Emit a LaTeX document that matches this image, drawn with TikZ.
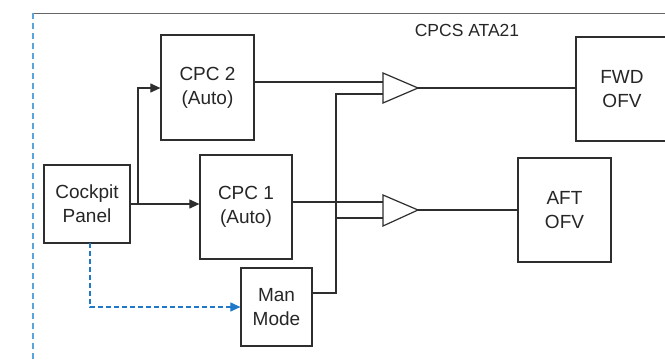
\documentclass[tikz,border=0pt]{standalone}
\usepackage{fontspec}
\setmainfont{Liberation Sans}
\usetikzlibrary{arrows.meta}
\definecolor{lineg}{HTML}{2E2E2E}
\definecolor{frameblue}{HTML}{5BA3D9}
\definecolor{dashblue}{HTML}{1F78C8}
\begin{document}
\begin{tikzpicture}[x=1pt,y=-1pt,
  blk/.style={draw=lineg,line width=1.2pt,fill=white,inner sep=0pt,align=center,
    font=\fontsize{19}{24}\selectfont,text=black!85},
  wire/.style={draw=lineg,line width=1.1pt},
  arr/.style={wire,-{Triangle[length=10pt,width=9pt]}},
  darr/.style={draw=dashblue,line width=1.1pt,dash pattern=on 5pt off 3pt,
    -{Triangle[length=10pt,width=9pt]}},
]
\useasboundingbox (0,0) rectangle (665,362);
\clip (0,0) rectangle (665,362);
% frame
\draw[draw=black!60,line width=1pt] (33,13) -- (665,13);
\draw[draw=frameblue,line width=1.2pt,dash pattern=on 6pt off 4pt] (33,13) -- (33,362);
\node[font=\fontsize{17.5}{20}\selectfont,text=black!85] (title) at (467,30) {CPCS ATA21};
% blocks
\node[blk,minimum width=93pt,minimum height=105pt] (cpc2) at (207.5,87.5) {CPC 2\\(Auto)};
\node[blk,minimum width=92pt,minimum height=104pt] (fwd) at (622,89) {FWD\\OFV};
\node[blk,minimum width=86pt,minimum height=78pt] (cockpit) at (87,204) {Cockpit\\Panel};
\node[blk,minimum width=92pt,minimum height=104pt] (cpc1) at (246,207) {CPC 1\\(Auto)};
\node[blk,minimum width=71pt,minimum height=78pt] (man) at (276.5,307) {Man\\Mode};
\node[blk,minimum width=93pt,minimum height=104pt] (aft) at (564.5,210) {AFT\\OFV};
% triangles (amplifiers)
\coordinate (t1top) at (383,73);
\coordinate (t1bot) at (383,103);
\coordinate (t1tip) at (418,88);
\coordinate (t1a) at (383,82);
\coordinate (t1b) at (383,94);
\coordinate (t2top) at (383,195);
\coordinate (t2bot) at (383,226);
\coordinate (t2tip) at (418,210);
\coordinate (t2a) at (383,202);
\coordinate (t2b) at (383,218);
\draw[draw=lineg,line width=1.2pt,fill=white,line join=miter] (t1top) -- (t1tip) -- (t1bot) -- cycle;
\draw[draw=lineg,line width=1.2pt,fill=white,line join=miter] (t2top) -- (t2tip) -- (t2bot) -- cycle;
% bus and junction points
\coordinate (br) at (138,204);
\coordinate (manout) at (336,293);
\coordinate (bus1) at (336,94);
\coordinate (bus2) at (336,218);
% connectors
\draw[wire] (cpc2.east |- t1a) -- (t1a);
\draw[wire] (t1tip) -- (fwd.west |- t1tip);
\draw[wire] (cpc1.east |- t2a) -- (t2a);
\draw[wire] (t2tip) -- (aft.west |- t2tip);
\draw[wire] (man.east |- manout) -- (manout) -- (bus1) -- (t1b);
\draw[wire] (bus2) -- (t2b);
\draw[arr] (cockpit.east) -- (cockpit.east -| cpc1.west);
\draw[arr] (br) -- (br |- 0,88) -- (cpc2.west |- 0,88);
\coordinate (dstart) at (90,243);
\draw[darr] (dstart) -- (dstart |- man.west) -- (man.west);
\end{tikzpicture}
\end{document}
